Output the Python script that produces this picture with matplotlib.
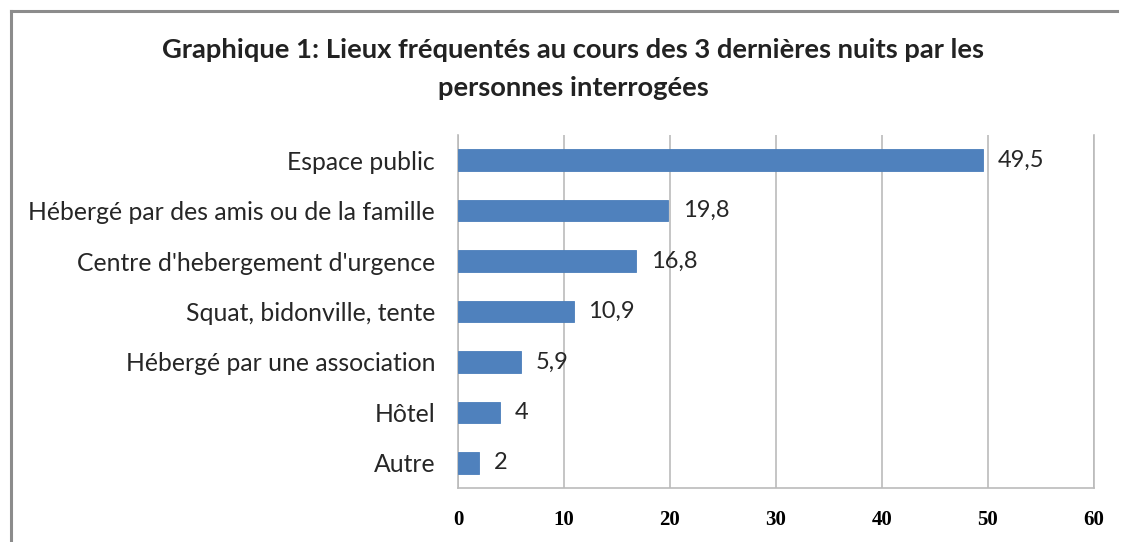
import matplotlib
matplotlib.use("Agg")
import matplotlib.pyplot as plt
from matplotlib.lines import Line2D

categories = ["Espace public", "Hébergé par des amis ou de la famille",
              "Centre d'hebergement d'urgence", "Squat, bidonville, tente",
              "Hébergé par une association", "Hôtel", "Autre"]
values = [49.5, 19.8, 16.8, 10.9, 5.9, 4, 2]
value_labels = ["49,5", "19,8", "16,8", "10,9", "5,9", "4", "2"]
xticks = [0, 10, 20, 30, 40, 50, 60]
title_lines = ["Graphique 1: Lieux fréquentés au cours des 3 dernières nuits par les",
               "personnes interrogées"]

fig = plt.figure(figsize=(11.22, 5.42), dpi=100)
ax = fig.add_axes([458/1122, 1-488/542, (1094-458)/1122, (488-135)/542])

n = len(categories)
pos = [n - 1 - i for i in range(n)]
ax.barh(pos, values, height=0.43, color="#4F81BD", edgecolor="#4A7EBB", linewidth=0.6, zorder=3)
for p, v, lab in zip(pos, values, value_labels):
    ax.text(v + 1.4, p, lab, va="center", ha="left", fontsize=17, family="Lato", color="#262626")

ax.set_xlim(0, 60)
ax.set_ylim(-0.5, 6.5)
ax.set_xticks(xticks)
ax.set_xticklabels([str(t) for t in xticks], family="Liberation Serif", fontweight="bold", fontsize=15)
ax.set_yticks(pos)
ax.set_yticklabels(categories, family="Lato", fontsize=17.8, color="#262626")
ax.tick_params(axis="both", length=0)
ax.tick_params(axis="x", pad=16)
ax.tick_params(axis="y", pad=16.5)
ax.grid(axis="x", color="#BBBBBB", linewidth=1.2, zorder=0)
for s in ["left", "bottom", "right"]:
    ax.spines[s].set_color("#BBBBBB")
    ax.spines[s].set_linewidth(1.2)
ax.spines["top"].set_visible(False)

fig.text(573/1122, 1-50/542, title_lines[0],
         ha="center", va="center", fontsize=19.7, fontweight="bold", family="Lato", color="#222222")
fig.text(573/1122, 1-88/542, title_lines[1],
         ha="center", va="center", fontsize=19.7, fontweight="bold", family="Lato", color="#222222")

# outer frame
fig.add_artist(Line2D([11/1122, 1117/1122], [1-11/542, 1-11/542], transform=fig.transFigure, color="#8C8C8C", linewidth=2.2))
fig.add_artist(Line2D([11/1122, 11/1122], [1-11/542, 0], transform=fig.transFigure, color="#8C8C8C", linewidth=2.2))

fig.savefig("out.png", dpi=100)
